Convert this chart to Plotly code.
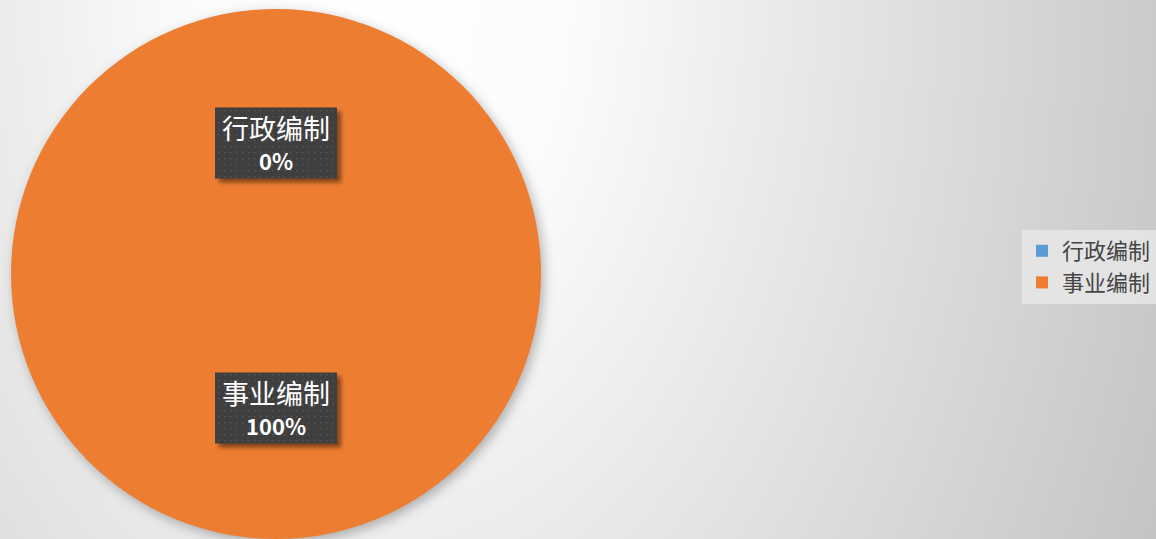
import plotly.graph_objects as go
import base64

categories = ["行政编制", "事业编制"]
values = [0, 100]
percent_labels = ["0%", "100%"]
colors = ["#5B9BD5", "#ED7D31"]

W, H = 1156, 539
# pie placement (pixels)
cx, cy, r = 276, 274, 265
label_y = [cy - 131, cy + 134]   # label box centres (pixels from top)
box_w, box_h = 122, 71

bg_svg = f'''<svg xmlns="http://www.w3.org/2000/svg" width="{W}" height="{H}" viewBox="0 0 {W} {H}">
<defs>
<radialGradient id="g" gradientUnits="userSpaceOnUse" cx="380" cy="0" r="880" gradientTransform="translate(380 0) scale(1 1.5) translate(-380 0)">
<stop offset="0" stop-color="#ffffff"/>
<stop offset="0.22" stop-color="#fbfbfb"/>
<stop offset="1" stop-color="#c2c2c2"/>
</radialGradient>
<filter id="b" x="-20%" y="-20%" width="140%" height="140%"><feGaussianBlur stdDeviation="6"/></filter>
</defs>
<rect width="{W}" height="{H}" fill="url(#g)"/>
<circle cx="{cx+3}" cy="{cy+4}" r="{r}" fill="#000" fill-opacity="0.28" filter="url(#b)"/>
</svg>'''

boxes = ""
for ly in label_y:
    x0, y0 = cx - box_w / 2, ly - box_h / 2
    boxes += (f'<rect x="{x0+4}" y="{y0+4}" width="{box_w}" height="{box_h}" fill="#000" fill-opacity="0.45" filter="url(#s)"/>'
              f'<rect x="{x0}" y="{y0}" width="{box_w}" height="{box_h}" fill="#3f3f3f"/>'
              f'<rect x="{x0}" y="{y0}" width="{box_w}" height="{box_h}" fill="url(#dots)"/>')
fg_svg = f'''<svg xmlns="http://www.w3.org/2000/svg" width="{W}" height="{H}" viewBox="0 0 {W} {H}">
<defs>
<pattern id="dots" width="6" height="6" patternUnits="userSpaceOnUse">
<rect x="2" y="2" width="1.3" height="1.3" fill="#5a5a5a"/>
</pattern>
<filter id="s" x="-20%" y="-20%" width="140%" height="140%"><feGaussianBlur stdDeviation="2"/></filter>
</defs>
{boxes}
</svg>'''


def uri(svg):
    return "data:image/svg+xml;base64," + base64.b64encode(svg.encode("utf-8")).decode()


fig = go.Figure()
fig.add_trace(go.Pie(
    labels=categories,
    values=values,
    marker=dict(colors=colors, line=dict(width=0)),
    textinfo="none",
    sort=False,
    direction="clockwise",
    rotation=0,
    showlegend=True,
    domain=dict(x=[(cx - r) / W, (cx + r) / W], y=[(H - cy - r) / H, (H - cy + r) / H]),
    hoverinfo="label+percent",
))

font_family = "Noto Sans CJK SC, Noto Sans, sans-serif"
annotations = []
for name, pct, ly in zip(categories, percent_labels, label_y):
    annotations.append(dict(
        text=name, xref="paper", yref="paper", x=cx / W, y=1 - (ly - 16) / H,
        xanchor="center", yanchor="middle", showarrow=False,
        font=dict(family=font_family, size=27, color="#ffffff"),
    ))
    annotations.append(dict(
        text=f"<b>{pct}</b>", xref="paper", yref="paper", x=cx / W, y=1 - (ly + 17) / H,
        xanchor="center", yanchor="middle", showarrow=False,
        font=dict(family=font_family, size=22, color="#ffffff"),
    ))

fig.update_layout(
    width=W, height=H,
    margin=dict(l=0, r=0, t=0, b=0),
    paper_bgcolor="rgba(0,0,0,0)",
    plot_bgcolor="rgba(0,0,0,0)",
    images=[
        dict(source=uri(bg_svg), xref="paper", yref="paper", x=0, y=1, sizex=1, sizey=1,
             xanchor="left", yanchor="top", sizing="stretch", layer="below"),
        dict(source=uri(fg_svg), xref="paper", yref="paper", x=0, y=1, sizex=1, sizey=1,
             xanchor="left", yanchor="top", sizing="stretch", layer="above"),
    ],
    legend=dict(x=1, xanchor="right", y=1 - 267 / H, yanchor="middle",
                bgcolor="rgba(232,232,232,0.8)",
                font=dict(family=font_family, size=22, color="#454545"),
                itemsizing="constant"),
    annotations=annotations,
)

fig.write_html("out.html", config={"displayModeBar": False},
               post_script="document.body.style.margin='0';document.body.style.overflow='hidden';")
